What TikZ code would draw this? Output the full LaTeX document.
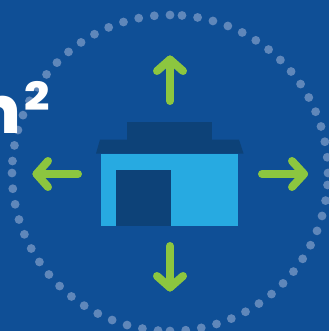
\documentclass[tikz,border=0pt]{standalone}
\usepackage{graphicx}
\usepackage{fontspec}
\setmainfont{Poppins}[BoldFont={Poppins ExtraBold}]
\definecolor{bgblue}{HTML}{0F4F96}
\definecolor{dotblue}{HTML}{5F87BA}
\definecolor{arrowgreen}{HTML}{8CC63F}
\definecolor{wallblue}{HTML}{27AAE1}
\definecolor{darkblue}{HTML}{0D4278}
\tikzset{
  growarrow/.style={draw=arrowgreen,line width=8pt,line cap=round,line join=round},
  dotmark/.style={fill=dotblue,draw=none},
  darkpart/.style={fill=darkblue,draw=none},
  areatext/.style={text=white,font=\bfseries,inner sep=0pt,outer sep=0pt}
}
\begin{document}
\begin{tikzpicture}[x=1pt,y=-1pt]
\useasboundingbox (0,0) rectangle (329,331);
\clip (0,0) rectangle (329,331);
\fill[bgblue] (0,0) rectangle (329,331);
% ring of dots, four quadrants
\foreach \q in {0,90,180,270}{
  \foreach \i in {0,...,15}{
    \fill[dotmark] ({170+158*cos(\q-85.65+\i*5.71)},{173+158*sin(\q-85.65+\i*5.71)}) circle (4.4pt);
  }
}
% house
\fill[wallblue] (101,154) rectangle (238,226);
\fill[darkpart] (116,170) rectangle (171,226);
\fill[darkpart] (127,122) rectangle (212,140);
\fill[darkpart] (100,139.5) -- (239,139.5) -- (243.5,153.5) -- (96,153.5) -- cycle;
% arrows
\draw[growarrow] (170,101) -- (170,59.5);
\draw[growarrow] (157,71) -- (170,59.5) -- (183,71);
\draw[growarrow] (170,246) -- (170,287.5);
\draw[growarrow] (157,276) -- (170,287.5) -- (183,276);
\draw[growarrow] (78,174) -- (36.5,174);
\draw[growarrow] (48,161) -- (36.5,174) -- (48,187);
\draw[growarrow] (262,174) -- (304,174);
\draw[growarrow] (292,161) -- (304,174) -- (292,187);
% area label
\node[areatext,anchor=base east] (unit) at (21,133) {\fontsize{66}{66}\selectfont m};
\node[areatext,anchor=base west] (power) at (24,110.5) {\scalebox{1.14}[1]{\fontsize{39}{39}\selectfont 2}};
\end{tikzpicture}
\end{document}
